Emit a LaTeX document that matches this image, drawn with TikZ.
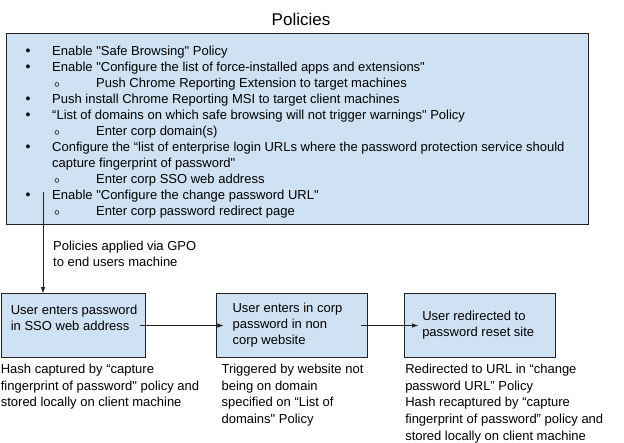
\documentclass[tikz,border=0pt]{standalone}
\usepackage{fontspec}
\setmainfont{Liberation Sans}[Ligatures=TeXOff]
\usepackage{tikz}
\usetikzlibrary{positioning}
\usetikzlibrary{calc,arrows.meta}

\definecolor{boxblue}{HTML}{CFE2F3}
\definecolor{edgegray}{HTML}{222222}

\begin{document}
\begin{tikzpicture}
	[   x=1pt,y=-1pt,
	    bnode/.style={draw=edgegray,fill=boxblue,line width=0.7pt,minimum width=#1,minimum height=64pt,inner sep=0pt},
	    tnode/.style={inner sep=0pt,align=left,font=\fontsize{13}{16}\selectfont},
	    cnode/.style={inner sep=0pt,align=left,font=\fontsize{13}{16.7}\selectfont},
	]
	\tikzset{flow arrow/.style={draw=edgegray,line width=0.6pt,-{Latex[length=6pt,width=4.5pt]}}}
	\useasboundingbox (0,0) rectangle (624,442);
	
	\node[font=\fontsize{17}{20}\selectfont] (title) at (301,19) {Policies};
	\node[bnode=582pt,minimum height=191pt] (policies) at (297,128.5) {};
	
	\foreach \lvl/\txt [count=\i] in {1/Enable "Safe Browsing" Policy,
		1/Enable "Configure the list of force-installed apps and extensions",
		2/Push Chrome Reporting Extension to target machines,
		1/Push install Chrome Reporting MSI to target client machines,
		1/“List of domains on which safe browsing will not trigger warnings" Policy,
		2/Enter corp domain(s),
		1/Configure the “list of enterprise login URLs where the password protection service should,
		0/capture fingerprint of password",
		2/Enter corp SSO web address,
		1/Enable "Configure the change password URL",
		2/Enter corp password redirect page}
	{
		\pgfmathsetmacro\yy{55.7+16*(\i-1)}
		\ifnum \lvl = 2
		\node[tnode,anchor=base,font=\fontsize{18}{18}\selectfont] (dot-\i) at (57,\yy+3) {◦};
		\node[tnode,anchor=base west] (item-\i) at (96,\yy) {\txt};
		\else
		\ifnum \lvl = 1
		\node[tnode,anchor=base,font=\fontsize{14}{16}\selectfont] (dot-\i) at (28,\yy) {\textbullet};
		\fi
		\node[tnode,anchor=base west] (item-\i) at (52,\yy) {\txt};
		\fi
	}
	
	\node[bnode=144pt] (b1) at (73,325.5) {};
	\node[bnode=151pt,right=71pt of b1] (b2) {};
	\node[bnode=151pt,right=36pt of b2] (b3) {};
	
	\node[tnode,anchor=west] (t1) at ([xshift=10pt,yshift=8pt]b1.west) {User enters password\\in SSO web address};
	\node[tnode,anchor=west] (t2) at ([xshift=16pt]b2.west) {User enters in corp\\password in non\\corp website};
	\node[tnode,anchor=west] (t3) at ([xshift=18pt]b3.west) {User redirected to\\password reset site};
	
	\node[cnode,below right=6pt and 0pt of b1.south west] (cap1) {Hash captured by “capture\\fingerprint of password" policy and\\stored locally on client machine};
	\node[cnode,below right=6pt and 5pt of b2.south west] (cap2) {Triggered by website not\\being on domain\\specified on “List of\\domains" Policy};
	\node[cnode,below right=6pt and 1pt of b3.south west] (cap3) {Redirected to URL in “change\\password URL” Policy\\Hash recaptured by “capture\\fingerprint of password” policy and\\stored locally on client machine};
	
	\coordinate (gpo) at (43,192);
	\path[flow arrow] (gpo) -- (gpo |- b1.north);
	\node[tnode,anchor=north west] (gpo-label) at (53,241) {Policies applied via GPO\\to end users machine};
	
	\path[flow arrow] ([xshift=-5pt]b1.east) -- ([xshift=7pt]b2.west);
	\path[flow arrow] ([xshift=-7pt]b2.east) -- ([xshift=14pt]b3.west);
\end{tikzpicture}
\end{document}
